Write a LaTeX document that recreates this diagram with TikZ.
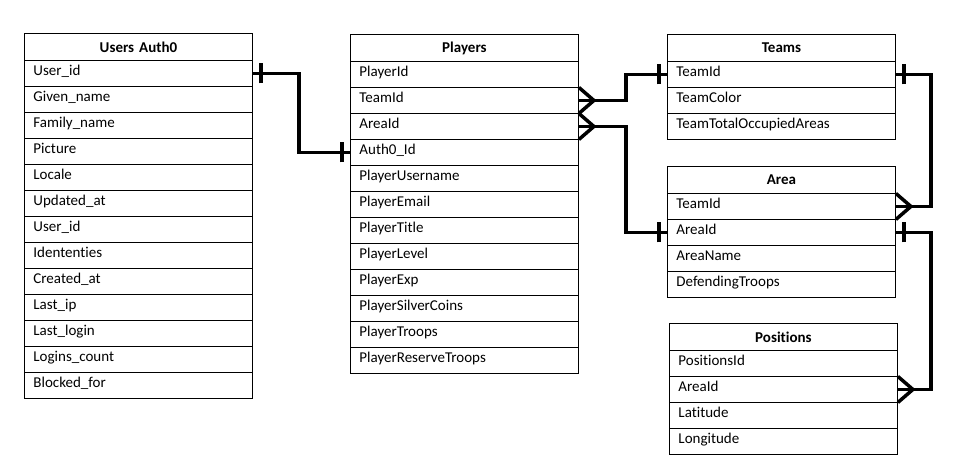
\documentclass[tikz,border=0pt]{standalone}
\usepackage{fontspec}
\setmainfont[Ligatures=NoCommon]{Carlito}
\usepackage{tikz}
\usetikzlibrary{positioning,calc}

\begin{document}
\begin{tikzpicture}[x=1pt, y=-1pt, font=\fontsize{15}{18}\selectfont,
  hdr/.style={draw, line width=0.9pt, anchor=north west, minimum width=228pt, text width=210pt,
    inner xsep=9pt, inner ysep=0pt, minimum height=27pt, align=center, font=\fontsize{15}{18}\selectfont\bfseries},
  fld/.style={draw, line width=0.9pt, anchor=north west, minimum width=228pt, text width=210pt,
    inner xsep=9pt, inner ysep=4pt, text height=11pt, text depth=7pt, align=left},
  rel/.style={line width=3.5pt},
  tick/.style={line width=3.5pt}]
\fill[white] (0,0) rectangle (964,474);
\useasboundingbox (0,0) rectangle (964,474);
% tables
\node[hdr] (U0) at (24,33) {Users Auth0};
\foreach \f [count=\i] in {User\_id, Given\_name, Family\_name, Picture, Locale, Updated\_at, User\_id,
  Idententies, Created\_at, Last\_ip, Last\_login, Logins\_count, Blocked\_for}
  \node[fld] (U\i) at (24,33+27+26*\i-26) {\f};
\node[hdr] (P0) at (350,34) {Players};
\foreach \f [count=\i] in {PlayerId, TeamId, AreaId, Auth0\_Id, PlayerUsername, PlayerEmail, PlayerTitle,
  PlayerLevel, PlayerExp, PlayerSilverCoins, PlayerTroops, PlayerReserveTroops}
  \node[fld] (P\i) at (350,34+27+26*\i-26) {\f};
\node[hdr] (T0) at (667,34) {Teams};
\foreach \f [count=\i] in {TeamId, TeamColor, TeamTotalOccupiedAreas}
  \node[fld] (T\i) at (667,34+27+26*\i-26) {\f};
\node[hdr] (A0) at (667,166) {Area};
\foreach \f [count=\i] in {TeamId, AreaId, AreaName, DefendingTroops}
  \node[fld] (A\i) at (667,166+27+26*\i-26) {\f};
\node[hdr] (S0) at (669,323) {Positions};
\foreach \f [count=\i] in {PositionsId, AreaId, Latitude, Longitude}
  \node[fld] (S\i) at (669,323+27+26*\i-26) {\f};
% relations
\draw[rel] (U1.east) -- ++(46,0) |- (P4.west);
\draw[rel] (P2.east) -- ++(47,0) |- (T1.west);
\draw[rel] (P3.east) -- ++(47,0) |- (A2.west);
\draw[rel] (T1.east) -- ++(35,0) |- (A1.east);
\draw[rel] (A2.east) -- ++(35,0) |- (S2.east);
% one ends
\foreach \n/\s in {U1.east/8, P4.west/-8, T1.west/-8, A2.west/-8, T1.east/8, A2.east/8}
  \draw[tick] ([xshift=\s pt,yshift=-10pt]\n) -- ([xshift=\s pt,yshift=10pt]\n);
% many ends
\foreach \n in {P2, P3, A1, S2}
  \draw[rel] ([yshift=-13pt]\n.east) -- ([xshift=15pt]\n.east) -- ([yshift=13pt]\n.east);
\end{tikzpicture}
\end{document}
